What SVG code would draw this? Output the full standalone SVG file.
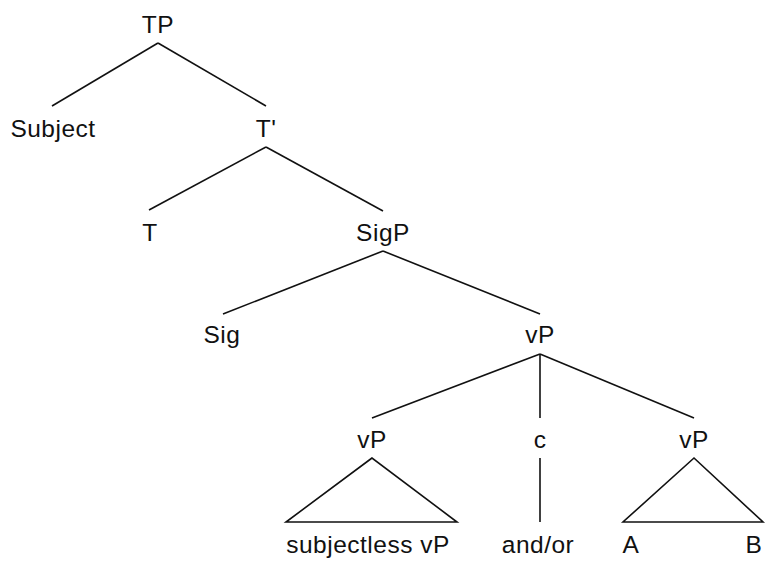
<svg xmlns="http://www.w3.org/2000/svg" width="767" height="561" viewBox="0 0 767 561">
<style>
text{font-family:"Liberation Sans",Arial,sans-serif;font-size:24.5px;letter-spacing:0.5px;fill:#111;text-anchor:middle}
.e{stroke:#111;stroke-width:1.6;fill:none}
</style>
<rect width="767" height="561" fill="#fff"/>
<g id="connectors">
<line class="e" x1="158" y1="43" x2="52" y2="106"/>
<line class="e" x1="158" y1="43" x2="266" y2="106"/>
<line class="e" x1="266" y1="147" x2="149" y2="210"/>
<line class="e" x1="266" y1="147" x2="383" y2="211"/>
<line class="e" x1="383" y1="251" x2="223" y2="314"/>
<line class="e" x1="383" y1="251" x2="540" y2="314"/>
<line class="e" x1="540" y1="354" x2="372" y2="418"/>
<line class="e" x1="540" y1="354" x2="540" y2="418"/>
<line class="e" x1="540" y1="354" x2="694" y2="418"/>
<line class="e" x1="540" y1="458" x2="540" y2="522"/>
</g>
<g id="TP"><text x="158" y="33">TP</text></g>
<g id="Subject"><text x="53" y="137">Subject</text></g>
<g id="Tbar"><text x="266" y="137">T'</text></g>
<g id="T"><text x="150" y="241">T</text></g>
<g id="SigP"><text x="383" y="241">SigP</text></g>
<g id="Sig"><text x="222" y="343">Sig</text></g>
<g id="vP"><text x="540" y="343">vP</text></g>
<g id="vP1"><text x="372" y="448">vP</text><polygon class="e" points="372,458 286,522 457,522"/><text x="368" y="553">subjectless vP</text></g>
<g id="c"><text x="540" y="448">c</text><text x="538" y="553">and/or</text></g>
<g id="vP2"><text x="694" y="448">vP</text><polygon class="e" points="694,458 623,522 763,522"/><text x="631" y="553">A</text><text x="754" y="553">B</text></g>
</svg>
